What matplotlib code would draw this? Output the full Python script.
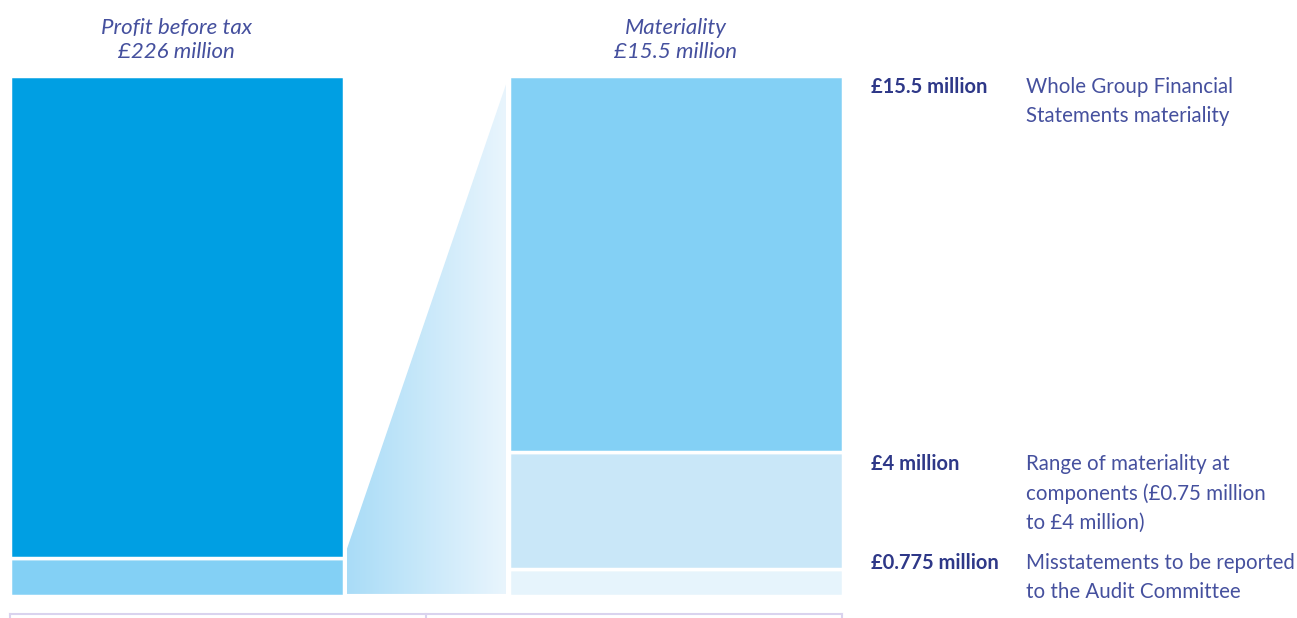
import numpy as np
import matplotlib
matplotlib.use("Agg")
import matplotlib.pyplot as plt
from matplotlib.patches import Polygon

# Datos
pbt = 226.0            # Profit before tax, £m
materiality = 15.5     # Whole group materiality, £m
pbt_low = 16.5         # tramo inferior de la barra izquierda
mat_parts = [0.8, 3.5, 11.2]   # tramos de la barra derecha, £m

titles = ["Profit before tax\n£226 million", "Materiality\n£15.5 million"]
labels = ["£15.5 million", "£4 million", "£0.775 million"]
descriptions = [
    "Whole Group Financial\nStatements materiality",
    "Range of materiality at\ncomponents (£0.75 million\nto £4 million)",
    "Misstatements to be reported\nto the Audit Committee",
]

# Colores
c_dark = "#009fe3"
c_mid = "#83d0f5"
c_light = "#c9e7f8"
c_pale = "#e6f4fc"
c_text = "#2e3888"
c_desc = "#45509e"

W, H = 1297, 618
fig = plt.figure(figsize=(W / 100, H / 100), dpi=100)
fig.patch.set_facecolor("white")

# Eje en "pixeles" horizontales, fracción del total en vertical
ax = fig.add_axes([10 / W, (H - 596) / H, (842 - 10) / W, (596 - 75.5) / H])
ax.set_xlim(10, 842)
ax.set_ylim(0, 1)
ax.axis("off")

# Barra izquierda: beneficio antes de impuestos
left_x, left_w = 176.5, 334
left_parts = [pbt_low / pbt, (pbt - pbt_low) / pbt]
left_cols = [c_mid, c_dark]
bottom = 0
for h, c in zip(left_parts, left_cols):
    ax.bar(left_x, h, width=left_w, bottom=bottom, color=c, edgecolor="white", linewidth=2.5)
    bottom += h

# Barra derecha: materialidad
right_x, right_w = 676, 334
right_cols = [c_pale, c_light, c_mid]
bottom = 0
for v, c in zip(mat_parts, right_cols):
    h = v / materiality
    ax.bar(right_x, h, width=right_w, bottom=bottom, color=c, edgecolor="white", linewidth=2.5)
    bottom += h

# Cuña con degradado
x0, x1 = 347, 506
y_left = 0.091
y_right = 0.983
wedge = Polygon([[x0, 0.004], [x0, y_left], [x1, y_right], [x1, 0.004]], closed=True,
                facecolor="none", edgecolor="none")
ax.add_patch(wedge)
grad = np.linspace(0, 1, 256).reshape(1, -1)
cmap = matplotlib.colors.LinearSegmentedColormap.from_list("w", ["#a9dcf7", "#e9f5fd"])
im = ax.imshow(grad, extent=[x0, x1, 0, 1], aspect="auto", cmap=cmap, zorder=1)
im.set_clip_path(wedge)
ax.set_xlim(10, 842)
ax.set_ylim(0, 1)

# Línea inferior
yl = -(614 - 596) / (596 - 75.5)
ax.plot([10, 842], [yl, yl], color="#d9d3ee", linewidth=1.5, clip_on=False)
for xt in [10, 426, 842]:
    ax.plot([xt, xt], [yl, yl - 0.02], color="#d9d3ee", linewidth=1.5, clip_on=False)

# Títulos
font = ["Lato", "DejaVu Sans"]
for t, xc in zip(titles, [left_x, right_x]):
    fig.text(xc / W, 1 - 40 / H, t, ha="center", va="center", fontsize=16,
             style="italic", color=c_desc, family=font, linespacing=1.2)

# Etiquetas a la derecha
label_y = [87, 464, 563]
for lab, desc, y in zip(labels, descriptions, label_y):
    fig.text(871 / W, 1 - y / H, lab, ha="left", va="center", fontsize=14.5,
             fontweight="bold", color=c_text, family=font)
    fig.text(1026 / W, 1 - (y - 10) / H, desc, ha="left", va="top", fontsize=14.8,
             color=c_desc, family=font, linespacing=1.55)

fig.savefig("out.png", dpi=100)
